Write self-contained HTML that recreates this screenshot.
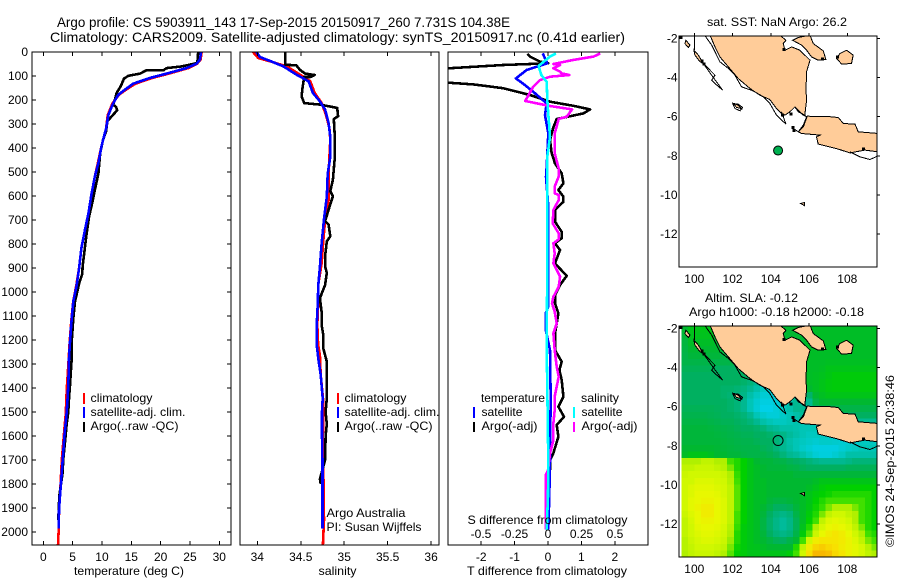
<!DOCTYPE html>
<html>
<head>
<meta charset="utf-8">
<title>Argo profile</title>
<style>
html,body{margin:0;padding:0;background:#fff;width:900px;height:580px;overflow:hidden}
svg{display:block}
text{font-family:"Liberation Sans",sans-serif;font-size:12px;fill:#000}
.title{font-size:14px}
.crisp{shape-rendering:crispEdges}
</style>
</head>
<body>
<svg id="chart" xmlns="http://www.w3.org/2000/svg" width="900" height="580" viewBox="0 0 900 580">
<defs>
<clipPath id="clip-temp"><rect x="32" y="52" width="199" height="493"/></clipPath>
<clipPath id="clip-sal"><rect x="240" y="52" width="199" height="493"/></clipPath>
<clipPath id="clip-diff"><rect x="448" y="52" width="200" height="493"/></clipPath>
<clipPath id="clip-map1"><rect x="679" y="36" width="198" height="231"/></clipPath>
<clipPath id="clip-map2"><rect x="679" y="326" width="198" height="231"/></clipPath>
</defs>
<text class="title" x="57" y="27" textLength="453" lengthAdjust="spacingAndGlyphs">Argo profile: CS 5903911_143 17-Sep-2015 20150917_260 7.731S 104.38E</text>
<text class="title" x="50" y="42" textLength="575" lengthAdjust="spacingAndGlyphs">Climatology: CARS2009. Satellite-adjusted climatology: synTS_20150917.nc (0.41d earlier)</text>

<g id="layer-temp"></g>
<g id="layer-sal"></g>
<g id="layer-diff"></g>
<g id="layer-map1"></g>
<g id="layer-map2"></g>

<text x="74" y="575" textLength="110" lengthAdjust="spacingAndGlyphs">temperature (deg C)</text>
<text x="318.5" y="575" textLength="38" lengthAdjust="spacingAndGlyphs">salinity</text>
<text x="467" y="575" textLength="160" lengthAdjust="spacingAndGlyphs">T difference from climatology</text>
<text x="467.5" y="524" textLength="160" lengthAdjust="spacingAndGlyphs">S difference from climatology</text>

<g>
<rect class="crisp" x="83" y="393" width="2" height="11" fill="#f00"/>
<rect class="crisp" x="83" y="407" width="2" height="11" fill="#00f"/>
<rect class="crisp" x="83" y="422" width="2" height="10" fill="#000"/>
<text x="90.5" y="402" textLength="62" lengthAdjust="spacingAndGlyphs">climatology</text>
<text x="90.5" y="416" textLength="95" lengthAdjust="spacingAndGlyphs">satellite-adj. clim.</text>
<text x="90.5" y="430" textLength="88" lengthAdjust="spacingAndGlyphs">Argo(..raw -QC)</text>
</g>
<g>
<rect class="crisp" x="337" y="393" width="2" height="11" fill="#f00"/>
<rect class="crisp" x="337" y="407" width="2" height="11" fill="#00f"/>
<rect class="crisp" x="337" y="422" width="2" height="10" fill="#000"/>
<text x="344.5" y="402" textLength="62" lengthAdjust="spacingAndGlyphs">climatology</text>
<text x="344.5" y="416" textLength="95" lengthAdjust="spacingAndGlyphs">satellite-adj. clim.</text>
<text x="344.5" y="430" textLength="88" lengthAdjust="spacingAndGlyphs">Argo(..raw -QC)</text>
<text x="326.5" y="517" textLength="79" lengthAdjust="spacingAndGlyphs">Argo Australia</text>
<text x="326.5" y="531" textLength="95" lengthAdjust="spacingAndGlyphs">PI: Susan Wijffels</text>
</g>
<g>
<text x="481" y="402" textLength="64" lengthAdjust="spacingAndGlyphs">temperature</text>
<rect class="crisp" x="473" y="407" width="2" height="11" fill="#00f"/>
<rect class="crisp" x="473" y="422" width="2" height="10" fill="#000"/>
<text x="481.5" y="416" textLength="41" lengthAdjust="spacingAndGlyphs">satellite</text>
<text x="481.5" y="430" textLength="56" lengthAdjust="spacingAndGlyphs">Argo(-adj)</text>
<text x="581" y="402" textLength="38" lengthAdjust="spacingAndGlyphs">salinity</text>
<rect class="crisp" x="573" y="407" width="2" height="11" fill="#0ff"/>
<rect class="crisp" x="573" y="422" width="2" height="10" fill="#f0f"/>
<text x="581.5" y="416" textLength="41" lengthAdjust="spacingAndGlyphs">satellite</text>
<text x="581.5" y="430" textLength="56" lengthAdjust="spacingAndGlyphs">Argo(-adj)</text>
</g>

<text x="707" y="26" textLength="140" lengthAdjust="spacingAndGlyphs">sat. SST: NaN Argo: 26.2</text>
<text x="705" y="302" textLength="93" lengthAdjust="spacingAndGlyphs">Altim. SLA: -0.12</text>
<text x="689" y="316" textLength="175" lengthAdjust="spacingAndGlyphs">Argo h1000: -0.18 h2000: -0.18</text>
<text transform="translate(894,547) rotate(-90)" textLength="172" lengthAdjust="spacingAndGlyphs">©IMOS 24-Sep-2015 20:38:46</text>
</svg>

<script>
// ---------- profile data ----------
const tempClimDepth = [0,32,49,67,90,108,132,157,178,214,262,318,394,462,518,594,671,740,817,900,971,1040,1110,1208,1277,1332,1402,1457,1500,1600,1700,1800,1900,2000,2055];
const tempClimValue = [27,26.8,26.2,24.7,21.4,18.6,15.7,14.1,12.9,11.8,11,10.7,9.9,9.3,8.8,8.2,7.7,7.1,6.5,6.1,5.65,5.1,4.8,4.5,4.33,4.2,4,3.9,3.85,3.5,3.15,2.95,2.7,2.6,2.5];
const tempSatDepth = [0,32,49,67,90,108,132,157,178,214,262,318,394,462,518,594,671,740,817,900,971,1040,1110,1208,1277,1388,1457,1500,1600,1700,1800,1900,1985];
const tempSatValue = [26.9,26.7,26.1,24.4,21,18.2,15.3,13.9,12.8,11.9,11.1,10.7,9.9,9.4,8.8,8.2,7.7,7.1,6.5,6.1,5.69,5.12,4.84,4.55,4.38,4.26,4.1,3.98,3.6,3.3,3,2.7,2.6];
const tempArgoDepth = [0,46,60,67,76,76,90,99,111,143,171,199,219,229,243,268,289,331,365,421,506,574,622,685,754,893,925,965,1040,1110,1208,1277,1388,1457,1500,1550,1600,1700,1750,1850,1950];
const tempArgoValue = [26.4,26.25,23.6,21,20.5,17.6,16.5,14.5,13.75,13.2,12.5,12.2,11.9,12.4,12.6,11.65,10.9,10.7,10.2,9.7,9.4,8.8,8.4,7.8,7.4,6.7,6.65,6.1,5.4,5.11,4.84,4.84,4.55,4.35,4.26,3.98,3.8,3.4,3.3,2.73,2.55];

const salClimDepth = [0,25,39,60,94,122,171,212,262,318,365,437,507,618,701,785,882,971,1054,1137,1220,1263,1346,1457,1500,1600,1950,2055];
const salClimValue = [33.95,34.01,34.15,34.34,34.49,34.61,34.66,34.74,34.79,34.83,34.84,34.83,34.82,34.82,34.78,34.76,34.74,34.7,34.7,34.69,34.7,34.72,34.73,34.76,34.76,34.755,34.767,34.755];
const salSatDepth = [0,21,39,60,94,122,171,206,240,296,354,437,507,604,688,800,896,971,1054,1137,1220,1277,1346,1443,1500,1600,1700,1800,1900,1985];
const salSatValue = [33.99,34.03,34.16,34.3,34.45,34.59,34.64,34.72,34.78,34.82,34.84,34.84,34.81,34.8,34.77,34.74,34.72,34.702,34.695,34.683,34.683,34.702,34.73,34.753,34.745,34.745,34.75,34.75,34.75,34.75];
const salArgoDepth = [0,53,56,74,90,96,104,104,150,185,213,219,233,268,279,338,449,532,580,601,657,705,719,768,789,851,893,921,971,1026,1082,1137,1179,1235,1290,1360,1443,1500,1550,1600,1700,1780,1800];
const salArgoValue = [34.32,34.32,34.45,34.49,34.55,34.66,34.61,34.54,34.52,34.51,34.54,34.72,34.92,34.93,34.88,34.89,34.89,34.87,34.84,34.87,34.82,34.78,34.82,34.84,34.8,34.78,34.78,34.8,34.78,34.72,34.74,34.74,34.76,34.76,34.8,34.8,34.8,34.786,34.8,34.786,34.78,34.72,34.73];

const diffTArgoDepth = [8,19,40,47,54,68,72,124,128,135,151,165,179,193,207,224,239,256,269,279,314,367,422,464,506,547,575,603,624,658,707,749,776,797,825,881,933,971,1013,1047,1089,1131,1172,1242,1290,1325,1367,1436,1478,1520,1554,1603,1672,1700,1742];
const diffTArgoValue = [-0.62,-0.54,-0.24,0.01,-1.34,-2.98,-5.2,-5.2,-2.98,-2.24,-1.34,-0.94,-0.54,-0.24,0.06,0.76,1.26,1.06,0.61,0.26,0.16,0.06,0.11,0.21,0.41,0.46,0.31,0.46,0.46,0.21,0.21,0.41,0.41,0.21,0.36,0.21,0.56,0.36,0.21,0.21,0.31,0.26,0.21,0.21,0.41,0.34,0.41,0.46,0.31,0.48,0.26,0.31,0.16,0.06,0.06];
const diffTSatDepth = [6,47,75,110,138,172,214,263,339,478,519,644,900,1060,1089,1158,1242,1450,1658,1700,1850,1990];
const diffTSatValue = [-0.16,-0.02,-0.64,-0.96,-0.69,-0.39,-0.04,-0.09,0.01,-0.04,-0.06,0.01,0.01,0.01,-0.07,-0.07,0.06,0.08,0.06,0.06,0.04,0.01];
const diffSArgoDepth = [6,19,33,50,54,68,82,89,96,103,117,144,204,225,239,269,279,339,422,485,519,561,589,596,617,658,714,756,781,797,839,881,936,978,1020,1047,1082,1131,1172,1242,1311,1353,1436,1492,1547,1617,1672,1742,1760,1990];
const diffSArgoValue = [0.39,0.34,0.19,0.04,0.09,0.04,0.09,0.1,0.16,0.015,-0.06,-0.11,-0.17,0.015,0.18,0.14,0.08,0.05,0.05,0.08,0.08,0.05,0.05,0.08,0.08,0.04,0.035,0.08,0.08,0.04,0.05,0.04,0.09,0.08,0.04,0.03,0.05,0.065,0.04,0.05,0.065,0.08,0.05,0.05,0.04,0.04,0.015,0,-0.015,-0.015];
const diffSSatDepth = [6,19,58,96,124,200,242,353,436,644,867,1242,1400,1708,1850,1992];
const diffSSatValue = [0.06,0.015,-0.07,-0.05,-0.01,-0.005,0,0.015,-0.005,-0.005,-0.005,-0.01,-0.005,0.002,0,-0.01];

// ---------- tick labels ----------
const depthTicks = [0,100,200,300,400,500,600,700,800,900,1000,1100,1200,1300,1400,1500,1600,1700,1800,1900,2000];
const tempTicks = [0,5,10,15,20,25,30];
const salTicks = [34,34.5,35,35.5,36];
const diffTTicks = [-2,-1,0,1,2];
const diffSTicks = [-0.5,-0.25,0,0.25,0.5];
const diffSLabels = ['-0.5','-0.25','0','0.25','0.5'];
const lonTicks = [100,102,104,106,108];
const latTicks = [-2,-4,-6,-8,-10,-12];

// ---------- map data (lon/lat) ----------
const argoLon = 104.38;
const argoLat = -7.731;
const sumatraCoast = [[100.82,-1.83],[101.08,-2.43],[101.34,-2.94],[101.78,-3.45],[102.3,-4.05],[102.91,-4.56],[103.43,-4.9],[103.95,-5.12],[104.3,-5.58],[104.56,-5.84],[104.74,-5.92],[105,-5.75],[105.26,-5.5],[105.44,-5.75],[105.78,-5.92],[105.87,-5.15],[105.84,-4.64],[105.87,-3.7],[106.05,-3.11],[105.78,-2.85],[105.52,-2.6],[105.09,-2.43],[104.74,-2.6],[104.65,-2.26],[104.79,-2.09],[104.48,-1.83]];
const bangkaCoast = [[105.14,-2.09],[105.44,-1.95],[106.05,-1.83],[106.22,-2.26],[106.74,-2.63],[106.88,-3.07],[106.48,-3.11],[106.13,-2.94],[105.87,-2.6],[105.61,-2.34]];
const belitungCoast = [[107.61,-2.77],[107.96,-2.6],[108.31,-2.85],[108.22,-3.28],[107.7,-3.31],[107.44,-3.02]];
const javaCoast = [[105.91,-5.97],[106.39,-6],[107.09,-6],[107.53,-6.04],[107.79,-6.35],[108.4,-6.38],[108.57,-6.77],[109.62,-6.86],[109.62,-7.8],[108.92,-7.71],[108.14,-7.85],[107.44,-7.63],[106.48,-7.4],[106.39,-7.03],[106.57,-6.94],[105.61,-6.86],[105.44,-6.77],[105.7,-6.52]];
const simeulueCoast = [[99.56,-2.09],[99.77,-2.34],[99.69,-2.46],[99.51,-2.26]];
const niasCoast = [[99.98,-2.6],[100.21,-2.85],[100.47,-3.28],[100.3,-3.19],[100.03,-2.85]];
const engganoCoast = [[102.04,-5.32],[102.3,-5.41],[102.47,-5.58],[102.21,-5.53]];
const christmasCoast = [[105.56,-10.44],[105.75,-10.39],[105.75,-10.54]];
const shelfSumatra = [[100.56,-1.86],[100.91,-2.34],[101.34,-3.19],[101.78,-3.53],[102.13,-3.88],[102.47,-4.47],[103.08,-4.68],[103.61,-4.98],[103.95,-5.32],[104.3,-5.92],[104.79,-6.38],[104.56,-5.75]];
const shelfMentawai = [[100.47,-3.28],[100.91,-3.88],[101.48,-4.64],[101.08,-4.3],[100.91,-4.13],[101.08,-3.88],[100.56,-3.36]];
const shelfEnggano = [[101.99,-5.32],[102.3,-5.36],[102.53,-5.53],[102.39,-5.7],[102.13,-5.58],[101.99,-5.32]];
const shelfJava = [[108.14,-7.8],[108.66,-8.05],[109.18,-8.19],[109.62,-8]];
const shelfStrait = [[105.26,-5.5],[105.7,-5.92],[105.87,-6],[105.7,-6.43],[105.44,-6.77],[105.17,-6.6]];
const shelfNorth = [[100,-1.87],[100,-2.6]];
const reefLon = [99.3,104.7,104.6,105.05,105.15,105.2,107.5,108.85,100.4,100.5,106.7];
const reefLat = [-1.95,-2.55,-5.92,-5.85,-6.55,-6.7,-2.95,-7.65,-3.15,-3.3,-3.05];

// ---------- SLA colour levels, north to south, west to east ----------
const slaLevels = [
[4,4.5,4.5,4.5,4.5,4,4,4,4,4,4,4,4,4,4,4,4,4,4,4.2,4.2,4.2,4.2,4.2,4.2,4.2,4.2,4.2,4.2,4.2],
[3.8,4.4,4.4,4.4,4.4,4,4,4,4,4,4,4,4,4,4,4,4,4,4,4.2,4.2,4.2,4.2,4.2,4.2,4.2,4.2,4.2,4.2,4.2],
[3.7,4.2,4.2,4.2,4.2,4,4,4,4,4,4,4,4,4,4,4,4,4,4,4.2,4.2,4.2,4.2,4.2,4.2,4.2,4.2,4.2,4.2,4.2],
[3.6,4,4,4,4,4,3.8,3.8,4,4,4,4,4,4,4,4,4,4,4,4.2,4.2,4.2,4.2,4.2,4.2,4.2,4.2,4.2,4.2,4.2],
[3.5,3.8,3.8,3.8,3.8,3.8,3.6,3.6,3.6,3.8,4,4,4,4,4,4,4,4,4,4.2,4.2,4.2,4.2,4.2,4.2,4.2,4.2,4.2,4.2,4.2],
[3.5,3.5,3.5,3.5,3.5,3.5,3.5,3.5,3.5,3.5,3.6,3.8,4,4,4,4,4,4,4,4.2,4.2,4.2,4.3,4.3,4.3,4.3,4.3,4.3,4.3,4.3],
[3.2,3.2,3.2,3.2,3.2,3,3,3,3,3,3,3.5,4,4,4,4,4,4,4,4.2,4.2,4.3,4.5,4.5,4.5,4.5,4.5,4.5,4.5,4.5],
[3,3,3,3,3,3,3,3,3,3,3,2.5,3,3.5,4,4,4,4,4,4.2,4.3,4.4,4.6,4.8,4.8,4.8,4.8,4.8,4.8,4.8],
[3,3,3,3,3,3,3,3,3,2.8,2.5,2,2,2.5,3,3.5,4,4,4,4.2,4.3,4.5,4.7,4.8,4.8,4.8,4.8,4.8,4.8,4.8],
[3,3,3,3,3,3,2.8,2.8,2.6,2.4,2,1.5,1,1,2,2.5,3,3.5,3.5,4,4.3,4.5,4.7,4.8,4.8,4.8,4.8,4.8,4.8,4.8],
[3,3,3,3,3,3,2.8,2.6,2.4,2.2,1.5,1,0.5,0.5,0.5,1.2,1.8,2.2,2.5,2.8,4,4.3,4.5,4.5,4.5,4.5,4.5,4.5,4.5,4.5],
[3,3,3,3,3,3,3,2.8,2.5,2,1.2,0.6,0.2,0.2,0.5,1,1.5,2,2,2,3.5,4,4,4,4,4,4,4,4,4],
[3.2,3.2,3.2,3.2,3.2,3.1,3,2.8,2.5,2,1.2,0.5,0,0,0.4,1,1.5,2,2,2,3,3.5,3.5,3.5,3.5,3.5,3.5,3.5,3.5,3.5],
[3.4,3.4,3.4,3.4,3.3,3.2,3,3,2.8,2.5,2,1.2,0.7,0.4,0.4,0.8,1.2,1.5,1.8,2,2.2,2.5,2.8,3,3,3,3,3,3,3],
[3.6,3.6,3.6,3.6,3.5,3.4,3.2,3.2,3,2.8,2.5,2,1.5,1.2,1,1,1.2,1.4,1.5,1.5,1.5,1.8,2,2,2,2,2,2,2,2],
[3.8,3.8,3.8,3.8,3.7,3.6,3.5,3.4,3.2,3,3,2.8,2.5,2,1.8,1.5,1.5,1.4,1.2,1.2,1.2,1.2,1.2,1.2,1.2,1.2,1.2,1.2,1.2,1.2],
[3.8,3.8,3.8,3.8,3.8,3.7,3.6,3.5,3.4,3.2,3.2,3,3,2.8,2.5,2.2,1.8,1.5,1.2,1,1,1,1,1,1,1,1,1,1,1],
[3.8,3.8,3.8,3.8,3.8,3.8,3.7,3.6,3.5,3.4,3.4,3.2,3,3,2.5,2,1.5,1.2,1,0.8,0.6,0.8,0.8,0.7,0.6,0.6,0.8,1,1,1],
[4,4,4,4,4,3.9,3.8,3.7,3.6,3.5,3.5,3.5,3.2,3,2.5,2,1.6,1.2,0.8,0.5,0.2,0.2,0.2,0.2,0.5,0.8,1,1.2,1.2,1.2],
[4.2,4.5,4.5,4.5,4.3,4,4,3.8,3.8,3.6,3.5,3.5,3.5,3.3,3,2.5,2,1.8,1.4,1,0.5,0.3,0.3,0.6,1,1.5,1.5,1.5,1.5,1.5],
[7,7,7,7.5,7.5,7,7,6,5.5,5,4.5,4,3.8,3.8,3.6,3.5,3.2,3,2.8,2.5,2.2,2,2,2,2,2.2,2.5,2.5,2.5,2.5],
[7.5,7.5,7.8,7.8,7.8,7.5,7.2,6.5,5.5,5,4.5,4.2,4,3.8,3.8,3.8,3.6,3.5,3.2,3,3,3,3,3,3,3.2,3.2,3.2,3.2,3.2],
[7.8,8,8,8,8,8,7.8,7,5.8,5,4.5,4.2,4,4,4,4,4,3.8,3.8,3.8,3.8,3.8,3.8,3.8,3.8,3.8,3.8,3.8,3.8,3.8],
[8,8,8.5,8.5,8.5,8.2,8,7.2,6,5,4.5,4.2,4.2,4,4,4,4,4,4,4,4.2,4.5,4.5,4.5,4.5,4.5,4.5,4.5,4.5,4.5],
[8,8.5,8.8,8.8,8.8,8.5,8.2,7.5,6.2,5,4.5,4.2,4.2,4,4,4,4,4,4,4.2,4.5,4.8,5,5,5,5,5,5,5,5],
[8,8.5,9,9,9,8.8,8.2,7.5,6.2,5,4.5,4.2,4.2,4,4,4,4,4,4.2,4.5,4.8,5,5.2,5.5,5.5,5.5,5.5,5.5,5.5,5],
[8,8.8,9,9.2,9.2,9,8.5,7.5,6.2,5,4.5,4.2,4.2,3.8,3.6,3.6,3.8,4,4.2,4.5,5,5.5,6,6,6,6,6,6,5.5,5],
[8,8.8,9.2,9.5,9.5,9,8.5,7.5,6.2,5,4.5,4.2,4,3.5,3,3,3.2,3.8,4.2,4.6,5.2,5.8,6.5,7,7,7,6.5,6,5.5,5],
[7.8,8.5,9,9.5,9.5,9,8.5,7.5,6,5,4.5,4.2,3.8,3,2.5,2.2,2.5,3.5,4.2,4.8,5.5,6.5,7.5,8,8,7.5,7,6,5.5,5],
[7.5,8.2,9,9.2,9.2,9,8.5,7.5,6,5,4.5,4.2,3.6,2.8,2.2,1.8,2.2,3.2,4.2,5,6,7.5,8.5,8.8,8.5,8,7,6,5.5,5],
[7.5,8,8.8,9,9,8.8,8.2,7.2,5.8,4.8,4.5,4.2,3.6,2.8,2.2,1.8,2.2,3.2,4.4,5.5,7,8.2,9,9.2,9,8.5,7.5,6.5,5.5,5],
[7.5,8,8.5,8.8,8.8,8.5,8,7,5.5,4.8,4.5,4.2,3.8,3,2.5,2.2,2.5,3.5,4.8,6.2,7.8,9,9.5,9.8,9.5,9,8,7,6,5.5],
[7.2,7.8,8.2,8.5,8.5,8.2,7.8,6.8,5.5,4.8,4.5,4.2,4,3.6,3.2,3,3.5,4,6,8,9.5,9.8,9.8,9.8,9.6,9.2,8.5,7.5,6.5,6],
[7.2,7.6,8,8,8,7.8,7.5,6.5,5.2,4.8,4.5,4.4,4.2,4,4,4,4,5.5,7.5,9.5,10.3,10.5,10.2,10,9.5,9.2,8.8,8.2,7.2,6.5],
[7,7.5,7.8,7.8,7.8,7.5,7,6.2,5,4.8,4.5,4.5,4.5,4.5,4.5,4.5,4.8,6,8,10,11,11,10.8,10.2,9.8,9.2,8.8,8.2,7.5,7]
];
const slaColors = [[0,208,232],[0,200,192],[0,184,144],[0,176,96],[0,184,48],[0,208,0],[64,224,0],[176,240,0],[208,248,0],[232,248,0],[248,224,0],[248,184,0]];

// ---------- axis functions ----------
const NS = 'http://www.w3.org/2000/svg';
const yDepth = d => 52 + d * 0.24;
const xTemp = t => 43.3 + t * 5.867;
const xSal = s => 257.3 + (s - 34) * 86.9;
const xDiffT = t => 548 + t * 33.4;
const xDiffS = s => 548 + s * 134;
const xLon = lon => 694.3 + (lon - 100) * 19.125;
const yLat = (lat, top) => top + 2.5 + (-2 - lat) * 19.55;
const MAP1_TOP = 36;
const MAP2_TOP = 326;

function make(tag, attrs, parent) {
  const el = document.createElementNS(NS, tag);
  for (const k in attrs) el.setAttribute(k, attrs[k]);
  parent.appendChild(el);
  return el;
}
function tickLabel(parent, name, x, y, anchor, str) {
  const t = make('text', {x: x, y: y, 'text-anchor': anchor}, parent);
  
  
  t.textContent = str;
}
function tick(parent, name, x1, y1, x2, y2) {
  const l = make('line', {x1: x1, y1: y1, x2: x2, y2: y2, stroke: '#000', 'stroke-width': 1, class: 'crisp'}, parent);
  
  
}
function frame(parent, name, x, y, w, h) {
  const r = make('rect', {x: x, y: y, width: w, height: h, fill: 'none', stroke: '#000', 'stroke-width': 1, class: 'crisp'}, parent);
  
  
}
function profile(parent, name, clip, xFn, xs, ds, color) {
  const pts = xs.map((v, i) => xFn(v).toFixed(1) + ',' + yDepth(ds[i]).toFixed(1)).join(' ');
  const p = make('polyline', {points: pts, fill: 'none', stroke: color, 'stroke-width': 2.6, 'stroke-linejoin': 'round', class: 'crisp', 'clip-path': 'url(#' + clip + ')'}, parent);
  
  
}

// ---------- temperature panel ----------
const gT = document.getElementById('layer-temp');
profile(gT, 'climatology-temperature-line', 'clip-temp', xTemp, tempClimValue, tempClimDepth, '#f00');
profile(gT, 'argo-temperature-line', 'clip-temp', xTemp, tempArgoValue, tempArgoDepth, '#000');
profile(gT, 'satellite-temperature-line', 'clip-temp', xTemp, tempSatValue, tempSatDepth, '#00f');
frame(gT, 'temperature-plot-frame', 32, 52, 199, 493);
depthTicks.forEach(d => {
  tick(gT, 'depth-tick-left', 32, yDepth(d), 36, yDepth(d));
  tick(gT, 'depth-tick-right', 227, yDepth(d), 231, yDepth(d));
  tickLabel(gT, 'depth-tick-label', 28, yDepth(d) + 4, 'end', String(d));
});
tempTicks.forEach(t => {
  tick(gT, 'temperature-tick-top', xTemp(t), 52, xTemp(t), 56);
  tick(gT, 'temperature-tick-bottom', xTemp(t), 541, xTemp(t), 545);
  tickLabel(gT, 'temperature-tick-label', xTemp(t), 561, 'middle', String(t));
});

// ---------- salinity panel ----------
const gS = document.getElementById('layer-sal');
profile(gS, 'climatology-salinity-line', 'clip-sal', xSal, salClimValue, salClimDepth, '#f00');
profile(gS, 'argo-salinity-line', 'clip-sal', xSal, salArgoValue, salArgoDepth, '#000');
profile(gS, 'satellite-salinity-line', 'clip-sal', xSal, salSatValue, salSatDepth, '#00f');
frame(gS, 'salinity-plot-frame', 240, 52, 199, 493);
salTicks.forEach(s => {
  tick(gS, 'salinity-tick-top', xSal(s), 52, xSal(s), 56);
  tick(gS, 'salinity-tick-bottom', xSal(s), 541, xSal(s), 545);
  tickLabel(gS, 'salinity-tick-label', xSal(s), 561, 'middle', String(s));
});

// ---------- difference panel ----------
const gD = document.getElementById('layer-diff');
profile(gD, 'argo-t-difference-line', 'clip-diff', xDiffT, diffTArgoValue, diffTArgoDepth, '#000');
profile(gD, 'satellite-t-difference-line', 'clip-diff', xDiffT, diffTSatValue, diffTSatDepth, '#00f');
profile(gD, 'argo-s-difference-line', 'clip-diff', xDiffS, diffSArgoValue, diffSArgoDepth, '#f0f');
profile(gD, 'satellite-s-difference-line', 'clip-diff', xDiffS, diffSSatValue, diffSSatDepth, '#0ff');
frame(gD, 'difference-plot-frame', 448, 52, 200, 493);
diffTTicks.forEach(t => {
  tick(gD, 't-difference-tick-top', xDiffT(t), 52, xDiffT(t), 56);
  tick(gD, 't-difference-tick-bottom', xDiffT(t), 541, xDiffT(t), 545);
  tickLabel(gD, 't-difference-tick-label', xDiffT(t), 561, 'middle', String(t));
});
diffSTicks.forEach((s, i) => {
  tickLabel(gD, 's-difference-tick-label', xDiffS(s), 538, 'middle', diffSLabels[i]);
});

// ---------- maps ----------
function coastPts(list, top) {
  return list.map(p => xLon(p[0]).toFixed(1) + ',' + yLat(p[1], top).toFixed(1)).join(' ');
}
function drawMap(parent, prefix, clip, top) {
  const g = make('g', {'clip-path': 'url(#' + clip + ')', class: 'crisp'}, parent);
  
  
  const lands = [['sumatra', sumatraCoast], ['bangka', bangkaCoast], ['belitung', belitungCoast], ['java', javaCoast], ['simeulue', simeulueCoast], ['nias', niasCoast], ['enggano', engganoCoast], ['christmas-island', christmasCoast]];
  lands.forEach(l => {
    const poly = make('polygon', {points: coastPts(l[1], top), fill: '#ffcc99', stroke: '#000', 'stroke-width': 1}, g);
    
    
  });
  const shelves = [shelfSumatra, shelfMentawai, shelfEnggano, shelfJava, shelfStrait, shelfNorth];
  shelves.forEach(s => {
    const line = make('polyline', {points: coastPts(s, top), fill: 'none', stroke: '#000', 'stroke-width': 1}, g);
    
    
  });
  reefLon.forEach((lon, i) => {
    const r = make('rect', {x: xLon(lon) - 1.5, y: yLat(reefLat[i], top) - 1.5, width: 3, height: 3, fill: '#000', class: 'crisp'}, g);
    
    
  });
}
function mapAxes(parent, prefix, top) {
  frame(parent, prefix + '-frame', 679, top, 198, 231);
  lonTicks.forEach(lon => {
    tick(parent, prefix + '-lon-tick-top', xLon(lon), top - 3, xLon(lon), top);
    tickLabel(parent, prefix + '-lon-tick-label', xLon(lon), top + 247, 'middle', String(lon));
  });
  latTicks.forEach(lat => {
    tick(parent, prefix + '-lat-tick-right', 877, yLat(lat, top), 880, yLat(lat, top));
    tickLabel(parent, prefix + '-lat-tick-label', 677.5, yLat(lat, top) + 4, 'end', String(lat));
  });
}

const gM1 = document.getElementById('layer-map1');
drawMap(gM1, 'map1', 'clip-map1', MAP1_TOP);
const dot = make('circle', {cx: xLon(argoLon), cy: yLat(argoLat, MAP1_TOP), r: 4.5, fill: '#00b050', stroke: '#000', 'stroke-width': 1}, gM1);


mapAxes(gM1, 'map1', MAP1_TOP);

const gM2 = document.getElementById('layer-map2');
const gHeat = make('g', {'clip-path': 'url(#clip-map2)', class: 'crisp'}, gM2);


const HEAT_LON0 = 99.32;
const HEAT_DLON = 0.343;
const HEAT_LAT0 = -1.87;
const HEAT_DLAT = 0.3376;
function levelColor(v) {
  const i = Math.max(0, Math.min(slaColors.length - 2, Math.floor(v)));
  const f = Math.max(0, Math.min(1, v - i));
  const a = slaColors[i], b = slaColors[i + 1];
  return 'rgb(' + a.map((c, k) => Math.round(c + (b[k] - c) * f)).join(',') + ')';
}
slaLevels.forEach((row, r) => {
  row.forEach((v, c) => {
    const x0 = xLon(HEAT_LON0 + c * HEAT_DLON);
    const y0 = yLat(HEAT_LAT0 - r * HEAT_DLAT, MAP2_TOP);
    const x1 = xLon(HEAT_LON0 + (c + 1) * HEAT_DLON);
    const y1 = yLat(HEAT_LAT0 - (r + 1) * HEAT_DLAT, MAP2_TOP);
    const cell = make('rect', {x: x0.toFixed(1), y: y0.toFixed(1), width: (x1 - x0 + 0.6).toFixed(1), height: (y1 - y0 + 0.6).toFixed(1), fill: levelColor(v)}, gHeat);
    
    
  });
});
drawMap(gM2, 'map2', 'clip-map2', MAP2_TOP);
const ring = make('circle', {cx: xLon(argoLon), cy: yLat(argoLat, MAP2_TOP), r: 5, fill: 'none', stroke: '#000', 'stroke-width': 1}, gM2);


mapAxes(gM2, 'map2', MAP2_TOP);
</script>
</body>
</html>
